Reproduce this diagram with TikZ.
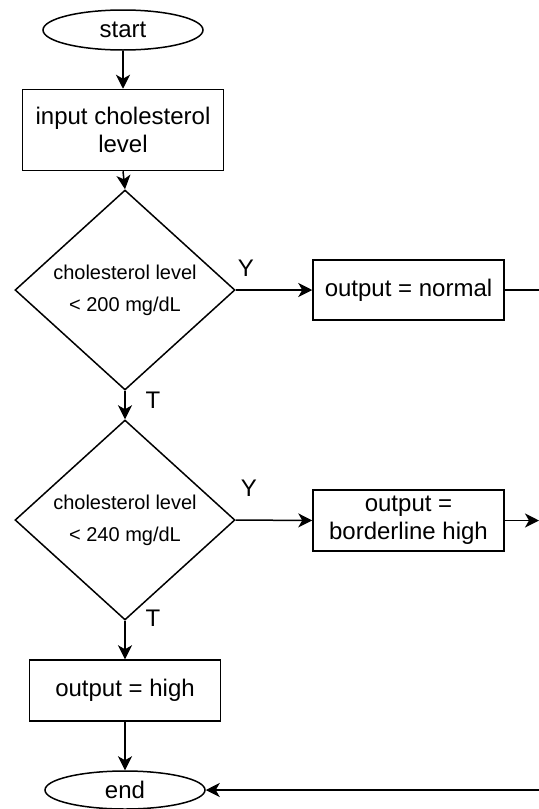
\documentclass[tikz,border=0pt]{standalone}
\usepackage{fontspec}
\setmainfont{Liberation Sans}
\usepackage{tikz}
\usetikzlibrary{shapes.geometric}
\usetikzlibrary{arrows.meta}

\begin{document}
\begin{tikzpicture}[x=0.5pt,y=-0.5pt,line width=0.75pt,
    font=\fontsize{12}{14}\selectfont,
    term/.style={draw,ellipse,inner sep=0pt,minimum width=80pt,minimum height=20pt},
    proc/.style={draw,rectangle,align=center,inner sep=0pt,minimum width=95.5pt,minimum height=30pt},
    test/.style={draw,diamond,align=center,inner sep=0pt,minimum width=110pt,minimum height=100pt,
      font=\fontsize{10}{14}\selectfont},
    flow/.style={-{Stealth[length=7pt,width=7pt,inset=2pt]}}]
    \useasboundingbox (0,0) rectangle (539,809);
    \node[term] (start) at (123,30) {start};
    \node[proc,minimum width=100.5pt,minimum height=40.5pt] (input) at (123,130) {input cholesterol\\level};
    \node[test] (lt200) at (125,290) {cholesterol level\\[2pt]< 200 mg/dL};
    \node[proc] (normal) at (408.5,290) {output = normal};
    \node[test] (lt240) at (125,520) {cholesterol level\\[2pt]< 240 mg/dL};
    \node[proc,minimum height=30.5pt] (border) at (408.5,520.5) {output =\\borderline high};
    \node[proc,minimum height=30.5pt] (high) at (125,690.5) {output = high};
    \node[term,minimum height=19pt] (end) at (125,790) {end};
    \coordinate (normalout) at (539,290);
    \coordinate (borderout) at (539,520.5);
    \coordinate (endin) at (539,790);
    \draw[flow] (start) -- (input);
    \draw[flow] (input.south) -- (lt200.north);
    \draw[flow] (lt200.east) -- (normal.west);
    \draw[flow] (lt200.south) -- (lt240.north);
    \draw[flow] (lt240.east) -- (border.west);
    \draw[flow] (lt240.south) -- (high.north);
    \draw[flow] (high) -- (end);
    \draw (normal.east) -- (normalout);
    \draw[flow] (border.east) -- (borderout);
    \draw[flow] (endin) -- (end.east);
    \node (y1) at (246,268) {Y};
    \node (t1) at (153,400) {T};
    \node (y2) at (249,488) {Y};
    \node (t2) at (153,618) {T};
  \end{tikzpicture}
\end{document}
